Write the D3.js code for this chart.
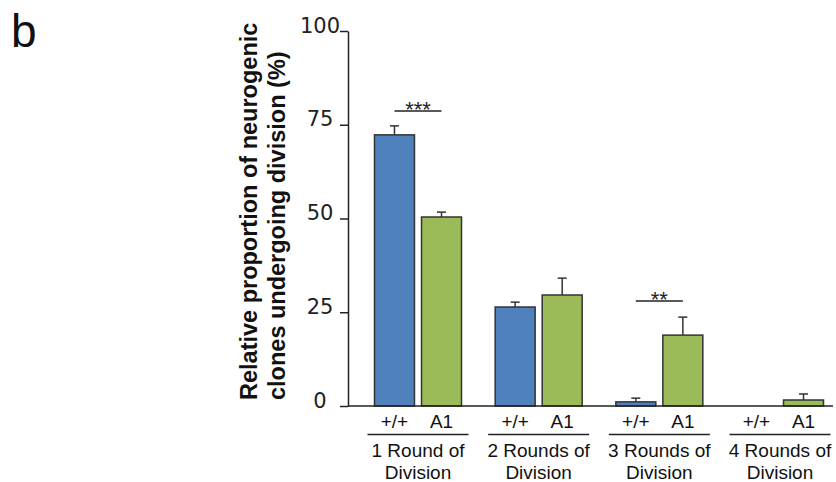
<!DOCTYPE html>
<html><head><meta charset="utf-8">
<script src="https://cdn.jsdelivr.net/npm/d3@7"></script>
<style>
html,body{margin:0;padding:0;background:#fff;}
svg{display:block;font-family:"Liberation Sans",Arial,sans-serif;}
</style></head>
<body><svg id="c" width="836" height="482"></svg>
<script>
// ---- data ----
const groups = ["1 Round of|Division", "2 Rounds of|Division", "3 Rounds of|Division", "4 Rounds of|Division"];
const genotypes = ["+/+", "A1"];
const wtValues  = [72.3, 26.4, 1.1, 0];
const wtErrors  = [2.4, 1.3, 1.0, 0];
const a1Values  = [50.4, 29.6, 18.9, 1.6];
const a1Errors  = [1.3, 4.5, 4.8, 1.6];
const yTicks = [0, 25, 50, 75, 100];
const sigGroups = [0, 2];
const sigLevels = [78.7, 28];
const sigLabels = ["***", "**"];
const colors = {"+/+": "#4f81bd", "A1": "#9bbb59"};

const svg = d3.select("#c");
const y = d3.scaleLinear().domain([0, 100]).range([406, 31]);
const xg = d3.scalePoint().domain(d3.range(groups.length)).range([418, 780]);
const xs = d3.scaleBand().domain(genotypes).range([-43.5, 43.5]).paddingInner(0.15).paddingOuter(0);

const rows = [];
groups.forEach((g, i) => {
  rows.push({g: i, k: "+/+", v: wtValues[i], e: wtErrors[i]});
  rows.push({g: i, k: "A1", v: a1Values[i], e: a1Errors[i]});
});

// error bars (drawn under bars)
const eb = svg.append("g").attr("stroke", "#333").attr("stroke-width", 1.5);
rows.filter(d => d.e > 0).forEach(d => {
  const cx = xg(d.g) + xs(d.k) + xs.bandwidth() / 2;
  eb.append("line").attr("x1", cx).attr("x2", cx).attr("y1", y(d.v)).attr("y2", y(d.v + d.e));
  eb.append("line").attr("x1", cx - 4.5).attr("x2", cx + 4.5).attr("y1", y(d.v + d.e)).attr("y2", y(d.v + d.e));
});

// bars
svg.append("g").selectAll("rect").data(rows.filter(d => d.v > 0)).join("rect")
  .attr("x", d => xg(d.g) + xs(d.k))
  .attr("width", xs.bandwidth())
  .attr("y", d => y(d.v))
  .attr("height", d => y(0) - y(d.v))
  .attr("fill", d => colors[d.k])
  .attr("stroke", "#333").attr("stroke-width", 1.5);

// y axis
const ya = svg.append("g").attr("transform", "translate(348,0)")
  .call(d3.axisLeft(y).tickValues(yTicks).tickSize(8).tickSizeOuter(0));
ya.select(".domain").attr("stroke", "#222").attr("stroke-width", 1.5);
ya.selectAll(".tick line").attr("stroke", "#222").attr("stroke-width", 1.5);
ya.selectAll(".tick text").attr("text-anchor", "middle").attr("x", -28).attr("dy", "0.05em")
  .attr("font-size", 21).attr("fill", "#222").attr("font-family", "DejaVu Sans, sans-serif");

// x baseline
svg.append("line").attr("x1", 348).attr("x2", 833).attr("y1", y(0)).attr("y2", y(0))
  .attr("stroke", "#222").attr("stroke-width", 1.5);

// genotype labels
const lab = svg.append("g").attr("fill", "#111").attr("font-size", 19).attr("text-anchor", "middle");
groups.forEach((g, i) => {
  genotypes.forEach(k => {
    lab.append("text").attr("x", xg(i) + xs(k) + xs.bandwidth() / 2).attr("y", 428).text(k);
  });
  svg.append("line").attr("x1", xg(i) - 50.5).attr("x2", xg(i) + 50.5).attr("y1", 434.5).attr("y2", 434.5)
    .attr("stroke", "#222").attr("stroke-width", 1.5);
  const parts = g.split("|");
  parts.forEach((p, j) => {
    svg.append("text").attr("x", xg(i)).attr("y", 457 + j * 22).attr("text-anchor", "middle")
      .attr("font-size", 19).attr("fill", "#111").text(p);
  });
});

// significance
sigGroups.forEach((gi, j) => {
  const x1 = xg(gi) + xs("+/+") + xs.bandwidth() / 2;
  const x2 = xg(gi) + xs("A1") + xs.bandwidth() / 2;
  svg.append("line").attr("x1", x1).attr("x2", x2).attr("y1", y(sigLevels[j])).attr("y2", y(sigLevels[j]))
    .attr("stroke", "#222").attr("stroke-width", 1.5);
  svg.append("text").attr("x", (x1 + x2) / 2).attr("y", y(sigLevels[j]) + 6).attr("text-anchor", "middle")
    .attr("font-size", 22).attr("fill", "#222").text(sigLabels[j]);
});

// y title
const yt = svg.append("text").attr("transform", "translate(257,400) rotate(-90)")
  .attr("font-size", 23.5).attr("font-weight", "bold").attr("fill", "#111");
yt.append("tspan").attr("x", 0).attr("y", 0).text("Relative proportion of neurogenic");
yt.append("tspan").attr("x", 0).attr("y", 28).text("clones undergoing division (%)");

// panel label
svg.append("text").attr("x", 11).attr("y", 47).attr("font-size", 46).attr("fill", "#111").text("b");
</script></body></html>
